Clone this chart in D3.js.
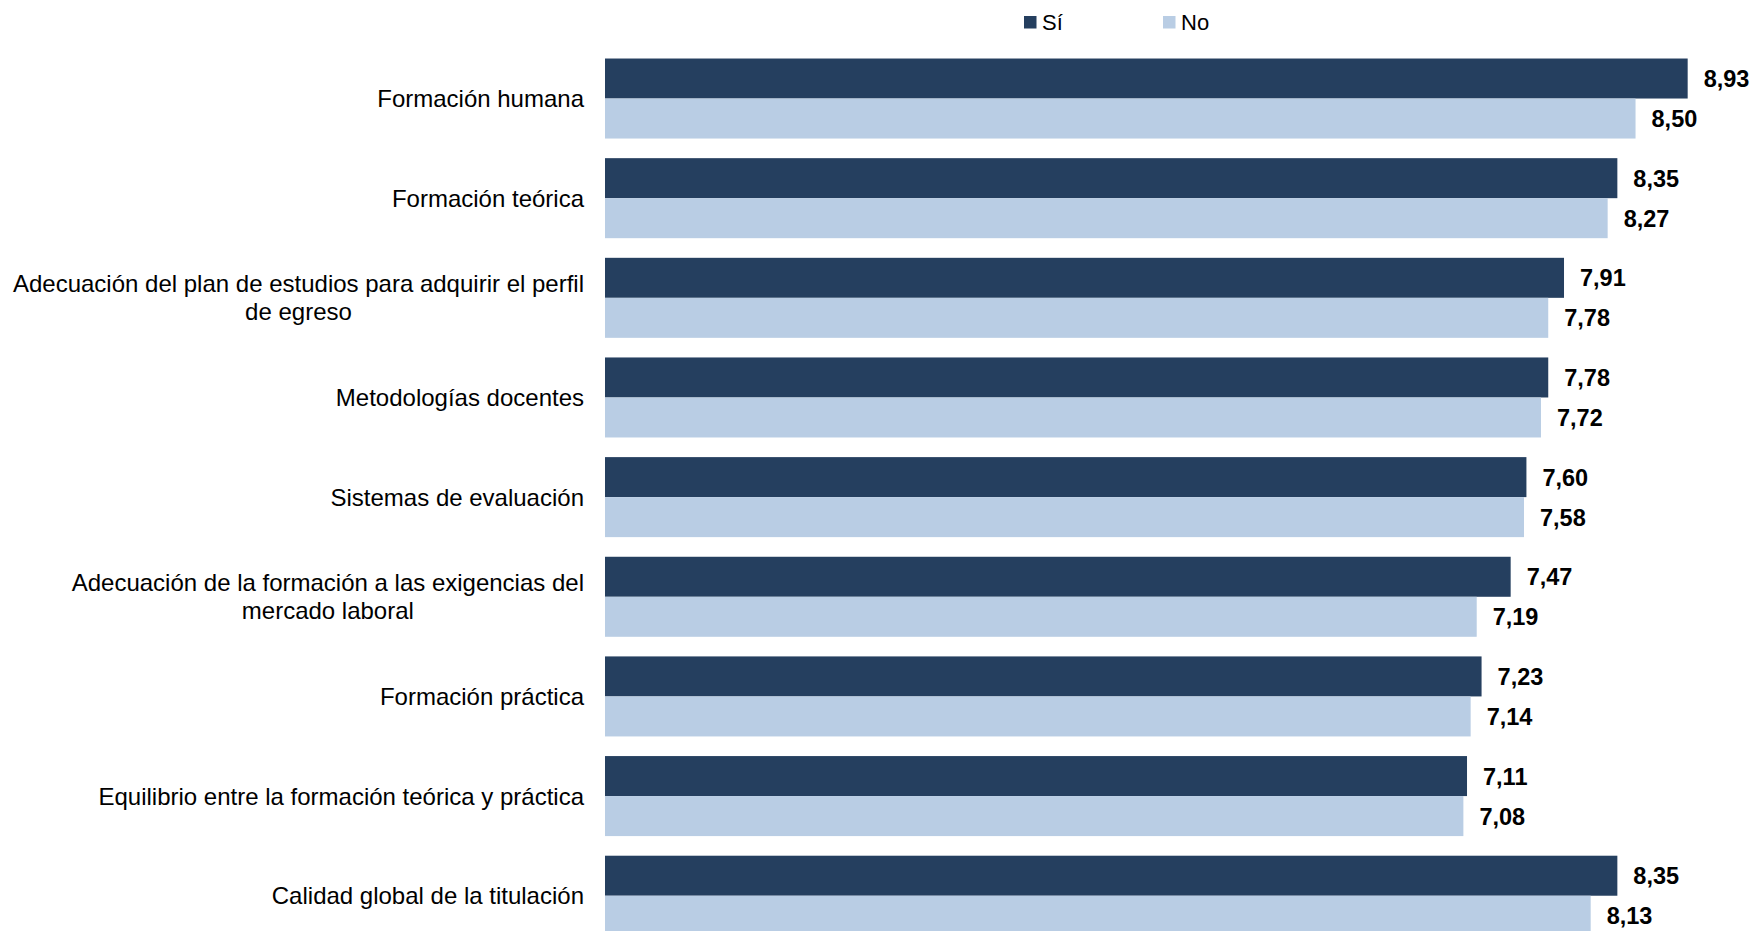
<!DOCTYPE html>
<html>
<head>
<meta charset="utf-8">
<script src="https://cdn.jsdelivr.net/npm/d3@7"></script>
<style>
html,body{margin:0;padding:0;background:#fff;overflow:hidden;}
svg{display:block;font-family:"Liberation Sans",Arial,sans-serif;}
</style>
</head>
<body>
<svg id="chart" width="1754" height="931"></svg>
<script>
const categories = [
  ["Formación humana"],
  ["Formación teórica"],
  ["Adecuación del plan de estudios para adquirir el perfil", "de egreso"],
  ["Metodologías docentes"],
  ["Sistemas de evaluación"],
  ["Adecuación de la formación a las exigencias del", "mercado laboral"],
  ["Formación práctica"],
  ["Equilibrio entre la formación teórica y práctica"],
  ["Calidad global de la titulación"]
];
const seriesNames = ["Sí", "No"];
const valuesSi = [8.93, 8.35, 7.91, 7.78, 7.60, 7.47, 7.23, 7.11, 8.35];
const valuesNo = [8.50, 8.27, 7.78, 7.72, 7.58, 7.19, 7.14, 7.08, 8.13];
const colors = ["#253f5f", "#b9cde4"];

const svg = d3.select("#chart");
const keys = categories.map((c, i) => i);
const data = keys.map(i => ({i, vals: [valuesSi[i], valuesNo[i]]}));

const x = d3.scaleLinear().domain([0, 10]).range([605, 605 + 1212.4]);
const y = d3.scaleBand().domain(keys).range([48.7, 945.55]).paddingInner(0.197).paddingOuter(0.0985);
const ySub = d3.scaleBand().domain([0, 1]).range([0, y.bandwidth()]);
const fmt = v => d3.format(".2f")(v).replace(".", ",");

const g = svg.append("g");
const groups = g.selectAll("g.grp").data(data).join("g")
  .attr("class", "grp")
  .attr("transform", d => `translate(0,${y(d.i)})`);

groups.selectAll("rect").data(d => d.vals.map((v, k) => ({v, k}))).join("rect")
  .attr("x", x(0))
  .attr("y", d => ySub(d.k))
  .attr("width", d => x(d.v) - x(0))
  .attr("height", ySub.bandwidth())
  .attr("fill", d => colors[d.k]);

groups.selectAll("text.val").data(d => d.vals.map((v, k) => ({v, k}))).join("text")
  .attr("class", "val")
  .attr("x", d => x(d.v) + 16)
  .attr("y", d => ySub(d.k) + ySub.bandwidth() / 2)
  .attr("dy", "0.36em")
  .attr("font-size", 23.5)
  .attr("font-weight", "bold")
  .attr("fill", "#000")
  .text(d => fmt(d.v));

// category labels
groups.each(function(d) {
  const lines = categories[d.i];
  const t = d3.select(this).append("text")
    .attr("font-size", 24)
    .attr("fill", "#000");
  const lh = 28;
  const c = y.bandwidth() / 2;
  lines.forEach((ln, j) => {
    t.append("tspan")
      .attr("x", 584)
      .attr("y", c + (j - (lines.length - 1) / 2) * lh)
      .attr("dy", "0.36em")
      .attr("text-anchor", j > 0 ? "middle" : "end")
      .text(ln);
  });
  if (lines.length > 1) {
    const tsp = t.selectAll("tspan").nodes();
    const w = tsp[0].getComputedTextLength();
    tsp.slice(1).forEach(n => d3.select(n).attr("x", 584 - w / 2));
  }
});

// legend
const legend = svg.append("g");
const lx = [1024, 1163];
seriesNames.forEach((name, k) => {
  legend.append("rect").attr("x", lx[k]).attr("y", 16).attr("width", 12.5).attr("height", 12.5).attr("fill", colors[k]);
  legend.append("text").attr("x", lx[k] + 18).attr("y", 30)
    .attr("font-size", 22).attr("fill", "#000").text(name);
});
</script>
</body>
</html>
